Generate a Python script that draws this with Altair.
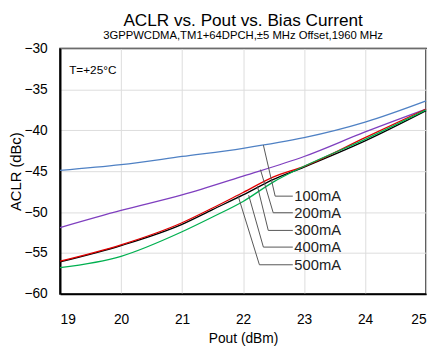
import altair as alt
import pandas as pd

# ---- data ----
x_lo = [19, 20, 21, 22, 23, 24, 25]
aclr_100 = [-44.9, -44.2, -43.2, -42.2, -40.9, -39.0, -36.4]
aclr_200 = [-51.9, -49.8, -47.9, -45.6, -43.2, -40.2, -37.4]

x_hi = [19, 20, 21, 21.5, 22, 22.5, 23, 24, 25]
aclr_300 = [-56.1, -54.1, -51.5, -49.7, -47.9, -46.0, -44.5, -41.3, -37.6]
aclr_400 = [-56.0, -54.0, -51.3, -49.5, -47.6, -45.7, -44.4, -40.9, -37.4]
aclr_500 = [-56.8, -55.4, -52.4, -50.6, -48.7, -46.3, -44.4, -41.1, -37.5]

series_names = ["100mA", "200mA", "300mA", "400mA", "500mA"]
series_colors = ["#4f81c4", "#7f3fbf", "#000000", "#e00000", "#00b050"]

# leader lines (curve point, elbow, label end) in data units
lead_x0 = [22.333, 22.285, 22.236, 22.092, 21.915]
lead_y0 = [-41.81, -44.81, -46.85, -47.93, -47.93]
lead_x1 = [22.526, 22.494, 22.413, 22.333, 22.268]
lead_y1 = [-48.05, -50.08, -52.24, -54.28, -56.44]
lead_x2 = 22.815
label_x = 22.84

note_text = ["T=+25°C"]
note_x = [19.15]
note_y = [-32.6]

x_ticks = [19, 20, 21, 22, 23, 24, 25]
y_ticks = [-60, -55, -50, -45, -40, -35, -30]

FONT = "Liberation Sans"

rows = []
for name, xs, ys in [
    ("100mA", x_lo, aclr_100),
    ("200mA", x_lo, aclr_200),
    ("300mA", x_hi, aclr_300),
    ("400mA", x_hi, aclr_400),
    ("500mA", x_hi, aclr_500),
]:
    for xv, yv in zip(xs, ys):
        rows.append({"series": name, "pout": xv, "aclr": yv})
df = pd.DataFrame(rows)

lead_rows = []
for i, name in enumerate(series_names):
    lead_rows.append({"series": name, "k": 0, "x": lead_x0[i], "y": lead_y0[i]})
    lead_rows.append({"series": name, "k": 1, "x": lead_x1[i], "y": lead_y1[i]})
    lead_rows.append({"series": name, "k": 2, "x": lead_x2, "y": lead_y1[i]})
lead_df = pd.DataFrame(lead_rows)

lab_df = pd.DataFrame({"label": series_names, "x": [label_x] * 5, "y": lead_y1})
note_df = pd.DataFrame({"t": note_text, "x": note_x, "y": note_y})

xscale = alt.Scale(domain=[19, 25], nice=False, zero=False)
yscale = alt.Scale(domain=[-60, -30], nice=False, zero=False)

xaxis = alt.Axis(values=x_ticks, format="d", title="Pout (dBm)", tickSize=0, labelPadding=19,
                 labelFontSize=14, titleFontSize=14, titleFont=FONT, labelFont=FONT,
                 labelColor="#000", titleColor="#000", domainColor="#000", domainWidth=2,
                 gridColor="#dcdcdc", titleFontWeight="normal", titleY=46,
                 titleBaseline="middle")
yaxis = alt.Axis(values=y_ticks, format="d", title="ACLR (dBc)", tickSize=0, labelPadding=13,
                 labelFontSize=14, titleFontSize=15, titleFont=FONT, labelFont=FONT,
                 labelColor="#000", titleColor="#000", domainColor="#000", domainWidth=2,
                 gridColor="#dcdcdc", titleFontWeight="normal", titleX=-45, titleY=125,
                 titleBaseline="middle", titleAlign="center", titleAngle=-90)

lines = alt.Chart(df).mark_line(strokeWidth=1.3, interpolate="monotone").encode(
    x=alt.X("pout:Q", scale=xscale, axis=xaxis),
    y=alt.Y("aclr:Q", scale=yscale, axis=yaxis),
    color=alt.Color("series:N", scale=alt.Scale(domain=series_names, range=series_colors), legend=None),
    order=alt.Order("pout:Q"),
)

leaders = alt.Chart(lead_df).mark_line(strokeWidth=1, color="#555555").encode(
    x=alt.X("x:Q", scale=xscale),
    y=alt.Y("y:Q", scale=yscale),
    detail="series:N",
    order="k:Q",
)

labels = alt.Chart(lab_df).mark_text(align="left", baseline="middle", font=FONT,
                                     fontSize=15, color="#222222").encode(
    x=alt.X("x:Q", scale=xscale),
    y=alt.Y("y:Q", scale=yscale),
    text="label:N",
)

note = alt.Chart(note_df).mark_text(align="left", baseline="middle", font=FONT,
                                    fontSize=12, color="#000").encode(
    x=alt.X("x:Q", scale=xscale),
    y=alt.Y("y:Q", scale=yscale),
    text="t:N",
)

chart = alt.layer(lines, leaders, labels, note).properties(
    width=373,
    height=250,
    autosize=alt.AutoSizeParams(type="none"),
    padding={"left": 53, "top": 38, "right": 6, "bottom": 60},
    title=alt.TitleParams(
        text="ACLR vs. Pout vs. Bias Current",
        subtitle="3GPPWCDMA,TM1+64DPCH,±5 MHz Offset,1960 MHz",
        font=FONT, fontSize=17.5, fontWeight="normal", color="#000",
        subtitleFont=FONT, subtitleFontSize=11.5, subtitleColor="#000",
        anchor="middle", frame="group", offset=0, subtitlePadding=1,
    ),
).configure_view(stroke="#000", strokeWidth=1.5).configure_axis(grid=True)

chart.save("out.html", embed_options={"renderer": "svg", "actions": False})
